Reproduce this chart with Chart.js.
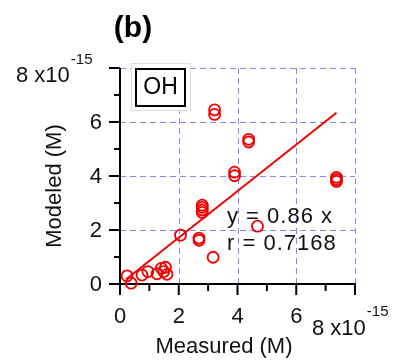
<!DOCTYPE html>
<html>
<head>
<meta charset="utf-8">
<script src="https://cdn.jsdelivr.net/npm/chart.js@4"></script>
<style>
html,body{margin:0;padding:0;background:#fff;}
#wrap{width:398px;height:362px;position:relative;}
</style>
</head>
<body>
<div id="wrap"><canvas id="c" width="398" height="362"></canvas></div>
<script>
// Data (units of 1e-15 M)
const measured = [3.22,3.22, 4.38,4.38, 3.90,3.90, 7.37,7.37,7.37, 2.80,2.80,2.80,2.80, 4.68, 2.06, 2.69,2.69, 3.17, 0.24,0.38,0.75,0.95,1.26,1.41,1.55,1.60,1.49];
const modeled  = [6.45,6.28, 5.36,5.26, 4.14,4.01, 3.95,3.87,3.80, 2.92,2.84,2.74,2.65, 2.14, 1.81, 1.70,1.62, 0.99, 0.30,0.03,0.33,0.46,0.38,0.58,0.62,0.36,0.46];
const fitX = [0.2, 7.37];
const fitY = [0.17, 6.34];
const xTicks = [0, 2, 4, 6, 8];
const yTicks = [0, 2, 4, 6, 8];
const xTickLabels = ['0', '2', '4', '6', '8 x10'];
const yTickLabels = ['0', '2', '4', '6', '8 x10'];
const exponentLabel = '-15';
const xTitle = 'Measured (M)';
const yTitle = 'Modeled (M)';
const panelLabel = '(b)';
const legendLabel = 'OH';
const fitText = ['y = 0.86 x', 'r = 0.7168'];

const FONT = '"Liberation Sans", Arial, sans-serif';

const pts = measured.map((x, i) => ({x: x, y: modeled[i]}));
const fitPts = fitX.map((x, i) => ({x: x, y: fitY[i]}));

const decor = {
  id: 'decor',
  beforeDatasetsDraw(chart) {
    const ctx = chart.ctx, xs = chart.scales.x, ys = chart.scales.y;
    const a = chart.chartArea;
    ctx.save();
    // dashed grid at major ticks (excluding 0)
    ctx.strokeStyle = 'rgb(135,135,250)';
    ctx.lineWidth = 1;
    ctx.setLineDash([6, 4]);
    xTicks.forEach(v => {
      if (v === 0) return;
      const px = Math.round(xs.getPixelForValue(v)) + 0.5;
      ctx.beginPath(); ctx.moveTo(px, a.top); ctx.lineTo(px, a.bottom); ctx.stroke();
    });
    yTicks.forEach(v => {
      if (v === 0) return;
      const py = Math.round(ys.getPixelForValue(v)) + 0.5;
      ctx.beginPath(); ctx.moveTo(a.left, py); ctx.lineTo(a.right, py); ctx.stroke();
    });
    ctx.setLineDash([]);
    // axes
    ctx.strokeStyle = '#000';
    ctx.lineWidth = 2;
    const x0 = xs.getPixelForValue(0), y0 = ys.getPixelForValue(0);
    ctx.beginPath(); ctx.moveTo(x0, a.top); ctx.lineTo(x0, y0); ctx.stroke();
    ctx.beginPath(); ctx.moveTo(x0, y0); ctx.lineTo(a.right + 1, y0); ctx.stroke();
    // ticks
    for (let v = 0; v <= 8; v++) {
      const major = v % 2 === 0;
      const px = xs.getPixelForValue(v);
      ctx.beginPath(); ctx.moveTo(px, y0); ctx.lineTo(px, y0 + (major ? 11 : 7)); ctx.stroke();
      const py = ys.getPixelForValue(v);
      ctx.beginPath(); ctx.moveTo(x0, py); ctx.lineTo(x0 - (major ? 11 : 6), py); ctx.stroke();
    }
    // tick labels
    ctx.fillStyle = '#111';
    ctx.font = '22px ' + FONT;
    xTicks.forEach((v, i) => {
      const px = xs.getPixelForValue(v);
      if (i === xTickLabels.length - 1) {
        ctx.textAlign = 'left'; ctx.textBaseline = 'alphabetic';
        ctx.fillText(xTickLabels[i], px - 43, 335);
        const w = ctx.measureText(xTickLabels[i]).width;
        ctx.font = '15px ' + FONT;
        ctx.fillText(exponentLabel, px - 43 + w + 1, 316);
        ctx.font = '22px ' + FONT;
      } else {
        ctx.textAlign = 'center'; ctx.textBaseline = 'alphabetic';
        ctx.fillText(xTickLabels[i], px, 323);
      }
    });
    yTicks.forEach((v, i) => {
      const py = ys.getPixelForValue(v);
      if (i === yTickLabels.length - 1) {
        ctx.textAlign = 'left'; ctx.textBaseline = 'alphabetic';
        ctx.fillText(yTickLabels[i], 16, 82);
        const w = ctx.measureText(yTickLabels[i]).width;
        ctx.font = '15px ' + FONT;
        ctx.fillText(exponentLabel, 16 + w + 1, 64);
        ctx.font = '22px ' + FONT;
      } else {
        ctx.textAlign = 'right'; ctx.textBaseline = 'middle';
        ctx.fillText(yTickLabels[i], 102, py + 1);
      }
    });
    // axis titles
    ctx.textAlign = 'center'; ctx.textBaseline = 'alphabetic';
    ctx.fillText(xTitle, 224, 353);
    ctx.save();
    ctx.translate(61, 186);
    ctx.rotate(-Math.PI / 2);
    ctx.fillText(yTitle, 0, 0);
    ctx.restore();
    // panel label
    ctx.font = 'bold 30px ' + FONT;
    ctx.fillStyle = '#000';
    ctx.fillText(panelLabel, 133, 37);
    ctx.restore();
  },
  afterDatasetsDraw(chart) {
    const ctx = chart.ctx;
    ctx.save();
    // legend box
    ctx.fillStyle = '#fff';
    ctx.fillRect(132, 64, 58, 46);
    ctx.strokeStyle = '#ddd';
    ctx.lineWidth = 1;
    ctx.strokeRect(131.5, 63.5, 59, 47);
    ctx.strokeStyle = '#000';
    ctx.lineWidth = 2;
    ctx.strokeRect(136, 69, 49, 37);
    ctx.fillStyle = '#000';
    ctx.font = '23px ' + FONT;
    ctx.textAlign = 'center'; ctx.textBaseline = 'alphabetic';
    ctx.fillText(legendLabel, 160.5, 94);
    // fit text
    ctx.fillStyle = '#111';
    ctx.font = '22px ' + FONT;
    ctx.textAlign = 'left';
    ctx.letterSpacing = '1px';
    ctx.fillText(fitText[0], 227, 223);
    ctx.fillText(fitText[1], 227, 250);
    ctx.letterSpacing = '0px';
    ctx.restore();
  }
};

new Chart(document.getElementById('c'), {
  type: 'scatter',
  data: {
    datasets: [
      {
        type: 'line',
        data: fitPts,
        borderColor: 'rgb(240,0,0)',
        borderWidth: 2,
        pointRadius: 0,
        fill: false,
        clip: false
      },
      {
        data: pts,
        pointStyle: 'circle',
        pointRadius: 5.5,
        pointBorderWidth: 1.8,
        borderColor: 'rgb(240,0,0)',
        backgroundColor: 'rgba(0,0,0,0)',
        clip: false
      }
    ]
  },
  options: {
    responsive: false,
    animation: false,
    devicePixelRatio: 1,
    layout: { padding: { left: 120, top: 68, right: 43, bottom: 78 } },
    plugins: { legend: { display: false }, tooltip: { enabled: false } },
    scales: {
      x: { type: 'linear', min: 0, max: 8, display: false },
      y: { type: 'linear', min: 0, max: 8, display: false }
    }
  },
  plugins: [decor]
});
</script>
</body>
</html>
